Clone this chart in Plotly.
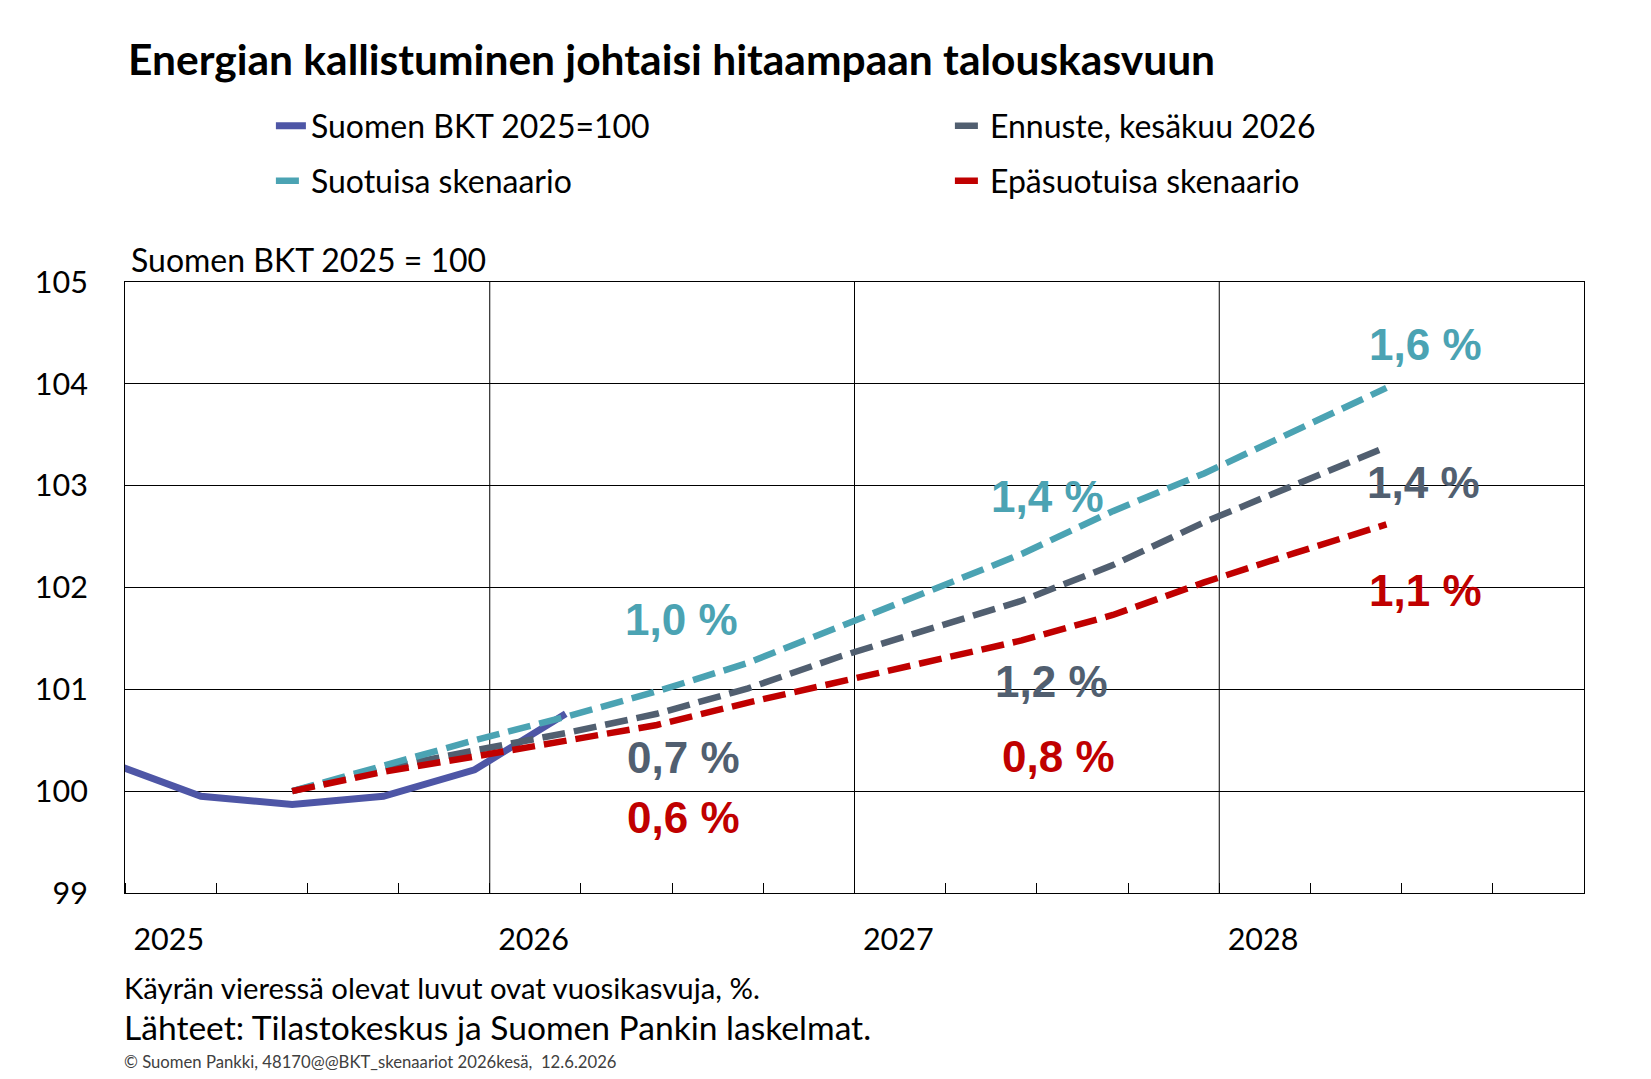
import plotly.graph_objects as go

# ---------------- data ----------------
actual_quarters = ["2024Q4", "2025Q1", "2025Q2", "2025Q3", "2025Q4", "2026Q1"]
gdp_actual = [100.28, 99.95, 99.87, 99.95, 100.21, 100.76]

scenario_quarters = ["2025Q2", "2025Q3", "2025Q4", "2026Q1", "2026Q2", "2026Q3", "2026Q4",
                     "2027Q1", "2027Q2", "2027Q3", "2027Q4", "2028Q1", "2028Q2"]
forecast_june2026 = [100.00, 100.22, 100.40, 100.57, 100.76, 101.01, 101.32,
                     101.59, 101.87, 102.22, 102.64, 103.01, 103.38]
favourable = [100.00, 100.25, 100.50, 100.73, 100.98, 101.26, 101.61,
              101.97, 102.33, 102.75, 103.12, 103.54, 103.96]
adverse = [100.00, 100.19, 100.34, 100.49, 100.65, 100.87, 101.07,
           101.27, 101.48, 101.73, 102.05, 102.34, 102.62]

growth_years = [2026, 2027, 2028]
growth_favourable = [1.0, 1.4, 1.6]
growth_forecast = [0.7, 1.2, 1.4]
growth_adverse = [0.6, 0.8, 1.1]

year_ticks = [2025, 2026, 2027, 2028]
y_ticks = [99, 100, 101, 102, 103, 104, 105]

# ---------------- style ----------------
C_BLUE = "#4E56A6"
C_TEAL = "#4BA3B3"
C_GREY = "#515F70"
C_RED = "#C00000"
FONT = "Lato"
LBL_FONT = "Liberation Sans"
DASH = "23px,9px"


def qpos(q):
    """Quarterly observation placed in the middle of the quarter's last month."""
    y, k = q.split("Q")
    return int(y) + (int(k) * 3 - 0.5) / 12.0


def fmt(v):
    return f"{v:.1f}".replace(".", ",") + " %"


xa = [qpos(q) for q in actual_quarters]
xs = [qpos(q) for q in scenario_quarters]

fig = go.Figure()
fig.add_trace(go.Scatter(x=xa, y=gdp_actual, mode="lines", name="Suomen BKT 2025=100",
                         line=dict(color=C_BLUE, width=7), legend="legend"))
fig.add_trace(go.Scatter(x=xs, y=forecast_june2026, mode="lines", name="Ennuste, kesäkuu 2026",
                         line=dict(color=C_GREY, width=6.5, dash=DASH), legend="legend"))
fig.add_trace(go.Scatter(x=xs, y=favourable, mode="lines", name="Suotuisa skenaario",
                         line=dict(color=C_TEAL, width=6.5, dash=DASH), legend="legend2"))
fig.add_trace(go.Scatter(x=xs, y=adverse, mode="lines", name="Epäsuotuisa skenaario",
                         line=dict(color=C_RED, width=6.5, dash=DASH), legend="legend2"))

# growth labels (annual growth, %), positioned next to the curves
label_pos = {
    "fav": [(2026.525, 101.69), (2027.53, 102.89), (2028.565, 104.39)],
    "fc": [(2026.53, 100.33), (2027.54, 101.08), (2028.56, 103.03)],
    "adv": [(2026.53, 99.74), (2027.56, 100.34), (2028.565, 101.97)],
}
annotations = []
for key, vals, col in (("fav", growth_favourable, C_TEAL), ("fc", growth_forecast, C_GREY),
                       ("adv", growth_adverse, C_RED)):
    for (lx, ly), v in zip(label_pos[key], vals):
        annotations.append(dict(x=lx, y=ly, xref="x", yref="y", text=f"<b>{fmt(v)}</b>",
                                showarrow=False, xanchor="center", yanchor="middle",
                                font=dict(family=LBL_FONT, size=44, color=col)))

# y-axis unit title and footnotes
annotations += [
    dict(x=0.0025, y=1.0376, xref="paper", yref="paper", text="Suomen BKT 2025 = 100",
         showarrow=False, xanchor="left", yanchor="middle", font=dict(family=FONT, size=32, color="black")),
    dict(x=-0.002, y=-0.1545, xref="paper", yref="paper",
         text="Käyrän vieressä olevat luvut ovat vuosikasvuja, %.",
         showarrow=False, xanchor="left", yanchor="middle", font=dict(family=FONT, size=29.3, color="black")),
    dict(x=-0.002, y=-0.2195, xref="paper", yref="paper",
         text="Lähteet: Tilastokeskus ja Suomen Pankin laskelmat.",
         showarrow=False, xanchor="left", yanchor="middle", font=dict(family=FONT, size=33.6, color="black")),
    dict(x=-0.002, y=-0.2766, xref="paper", yref="paper",
         text="© Suomen Pankki, 48170@@BKT_skenaariot 2026kesä,  12.6.2026",
         showarrow=False, xanchor="left", yanchor="middle", font=dict(family=FONT, size=16.7, color="#404040")),
]

# vertical year gridlines
shapes = [dict(type="line", xref="x", yref="paper", x0=yr, x1=yr, y0=0, y1=1,
               line=dict(color="black", width=1), layer="below") for yr in year_ticks[1:]]

fig.update_layout(
    width=1651, height=1079,
    margin=dict(l=125, r=67, t=282, b=186),
    paper_bgcolor="white", plot_bgcolor="white",
    font=dict(family=FONT, size=30, color="black"),
    title=dict(text="<b>Energian kallistuminen johtaisi hitaampaan talouskasvuun</b>",
               x=128 / 1651, xanchor="left", y=1 - 60 / 1079, yanchor="middle",
               font=dict(family=FONT, size=42.5, color="black")),
    legend=dict(orientation="h", x=0.1, xanchor="left", y=1.2553, yanchor="middle",
                entrywidth=634, font=dict(family=FONT, size=32, color="black"),
                bgcolor="rgba(0,0,0,0)", itemwidth=30),
    legend2=dict(orientation="h", x=0.1, xanchor="left", y=1.1653, yanchor="middle",
                 entrywidth=634, font=dict(family=FONT, size=32, color="black"),
                 bgcolor="rgba(0,0,0,0)", itemwidth=30),
    xaxis=dict(range=[2025, 2029], tickmode="array",
               tickvals=[y + 0.12 for y in year_ticks], ticktext=[str(y) for y in year_ticks],
               showgrid=False, zeroline=False, ticks="", ticklabelstandoff=19,
               showline=True, linecolor="black", linewidth=1, mirror=True,
               tickfont=dict(family=FONT, size=30.5, color="black"),
               minor=dict(ticks="inside", ticklen=10, tickcolor="black", tickwidth=1,
                          tick0=2025, dtick=0.25, showgrid=False)),
    yaxis=dict(range=[99, 105], tickmode="array", tickvals=y_ticks,
               showgrid=True, gridcolor="black", gridwidth=1, zeroline=False,
               ticks="", ticklabelstandoff=30,
               showline=True, linecolor="black", linewidth=1, mirror=True,
               tickfont=dict(family=FONT, size=30.5, color="black")),
    annotations=annotations,
    shapes=shapes,
)

fig.write_html("out.html")
